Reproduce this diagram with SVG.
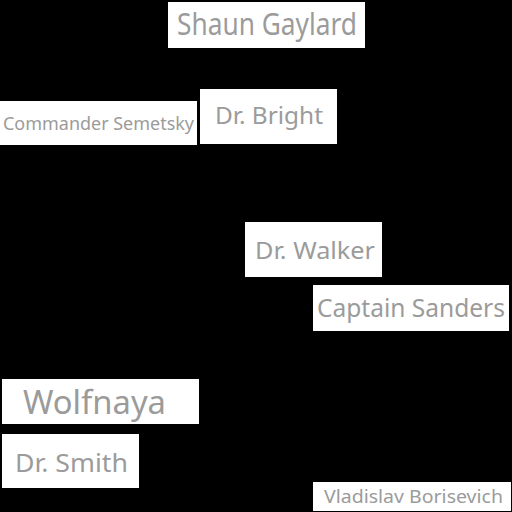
<svg xmlns="http://www.w3.org/2000/svg" width="512" height="512" viewBox="0 0 512 512">
  <style>
    .box { fill: #ffffff; }
    .label { fill: #9b9b9b; font-family: "Noto Sans", "DejaVu Sans", sans-serif; }
  </style>
  <rect x="0" y="0" width="512" height="512" fill="#000000"/>
  <g id="connectors"></g>
  <g id="shaun-gaylard">
    <rect class="box" x="168" y="2" width="197" height="46"/>
    <text class="label" x="177" y="35" font-size="31" textLength="180" lengthAdjust="spacingAndGlyphs">Shaun Gaylard</text>
  </g>
  <g id="commander-semetsky">
    <rect class="box" x="0" y="101" width="197" height="44"/>
    <text class="label" x="3" y="130" font-size="18.5" textLength="191" lengthAdjust="spacingAndGlyphs">Commander Semetsky</text>
  </g>
  <g id="dr-bright">
    <rect class="box" x="200" y="89" width="137" height="55"/>
    <text class="label" x="215" y="124" font-size="24" textLength="108" lengthAdjust="spacingAndGlyphs">Dr. Bright</text>
  </g>
  <g id="dr-walker">
    <rect class="box" x="245" y="222" width="137" height="55"/>
    <text class="label" x="255" y="259" font-size="24" textLength="120" lengthAdjust="spacingAndGlyphs">Dr. Walker</text>
  </g>
  <g id="captain-sanders">
    <rect class="box" x="313" y="285" width="196" height="46"/>
    <text class="label" x="317" y="317" font-size="25" textLength="188" lengthAdjust="spacingAndGlyphs">Captain Sanders</text>
  </g>
  <g id="wolfnaya">
    <rect class="box" x="2" y="379" width="197" height="45"/>
    <text class="label" x="23" y="414" font-size="32" textLength="143" lengthAdjust="spacingAndGlyphs">Wolfnaya</text>
  </g>
  <g id="dr-smith">
    <rect class="box" x="2" y="434" width="137" height="54"/>
    <text class="label" x="15" y="472" font-size="26" textLength="113" lengthAdjust="spacingAndGlyphs">Dr. Smith</text>
  </g>
  <g id="vladislav-borisevich">
    <rect class="box" x="313" y="482" width="198" height="29"/>
    <text class="label" x="324" y="503" font-size="17.5" textLength="179" lengthAdjust="spacingAndGlyphs">Vladislav Borisevich</text>
  </g>
</svg>
